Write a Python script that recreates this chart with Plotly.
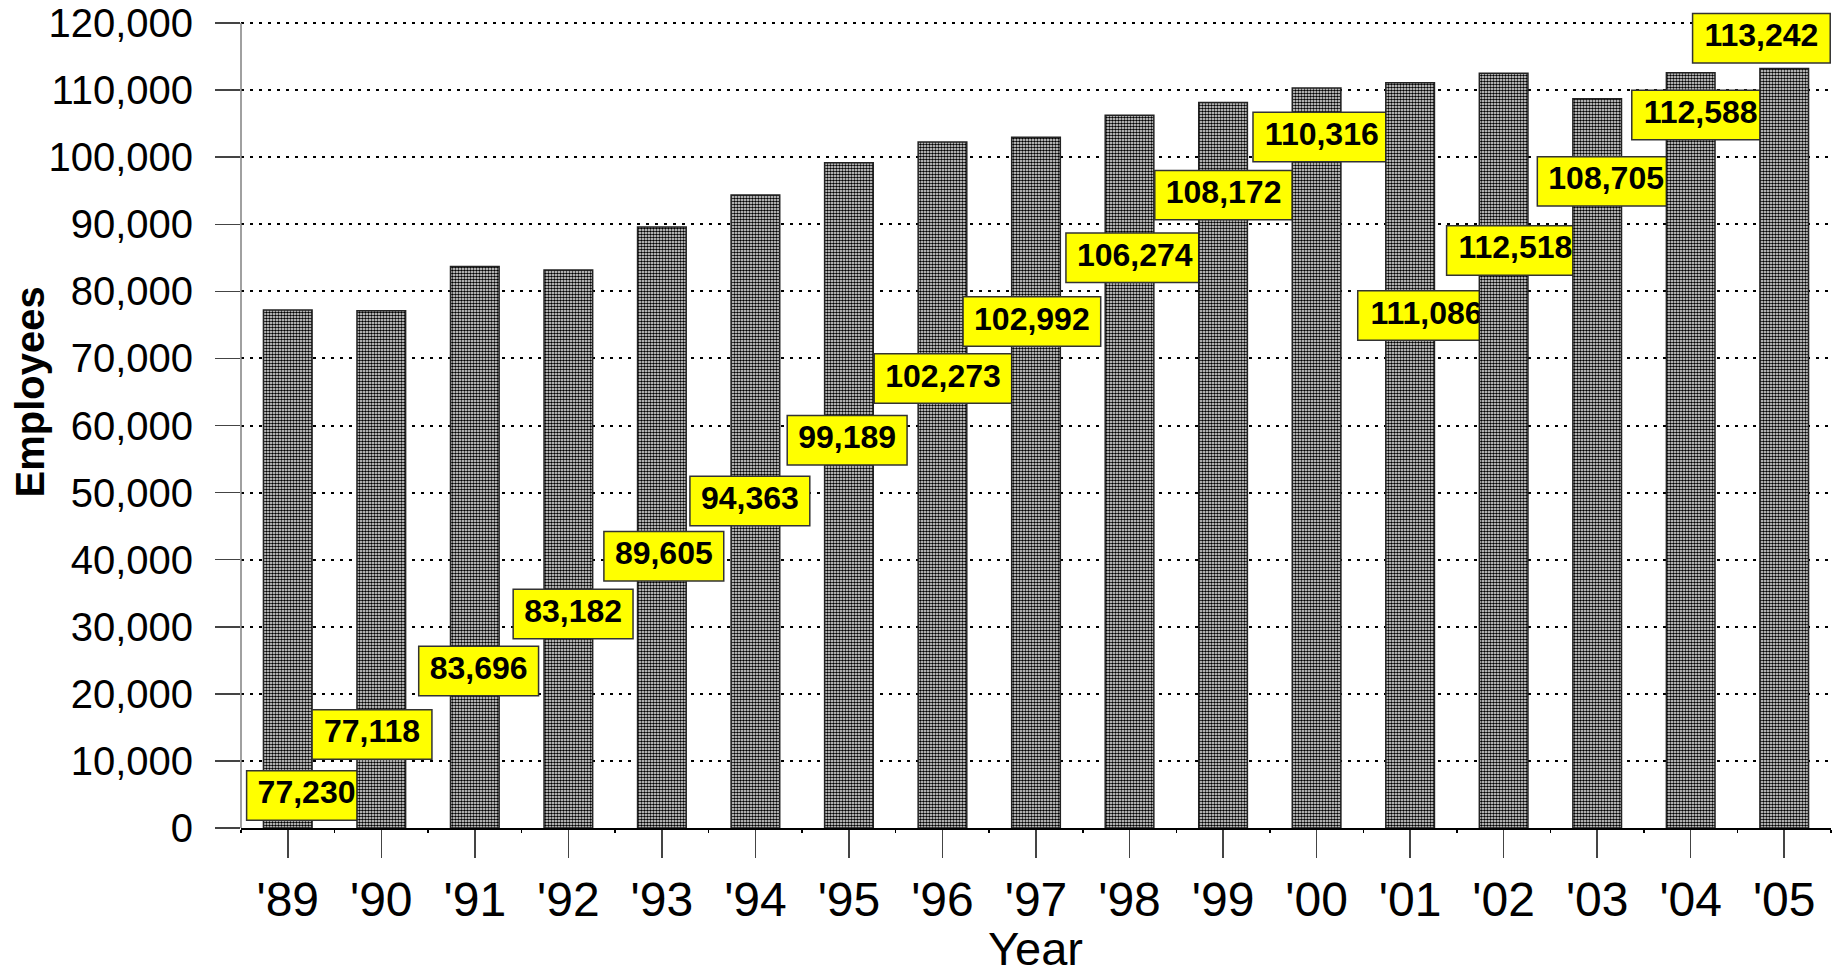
import plotly.graph_objects as go

# ---------------- data ----------------
years = ["'89", "'90", "'91", "'92", "'93", "'94", "'95", "'96", "'97",
         "'98", "'99", "'00", "'01", "'02", "'03", "'04", "'05"]
employees = [77230, 77118, 83696, 83182, 89605, 94363, 99189, 102273, 102992,
             106274, 108172, 110316, 111086, 112518, 108705, 112588, 113242]

# label placement (layout): left edge offset from category (category units), centre height (data units)
label_dx = [-0.44, -0.74, -0.60, -0.59, -0.62, -0.70, -0.66, -0.73, -0.78,
            -0.68, -0.73, -0.68, -0.56, -0.61, -0.64, -0.63, -0.98]
label_y = [4860, 13950, 23400, 31900, 40500, 48750, 57800, 67000, 75500,
           85000, 94350, 103000, 76400, 86100, 96400, 106300, 117750]

# ---------------- layout constants ----------------
FONT = "Liberation Sans, Arial, sans-serif"
W, H = 1843, 977
YMAX = 120000          # top tick / axis line end
YTOP = 121800          # a little headroom so the top label box is not clipped
PX_PER_UNIT_Y = 805 / YMAX
ML, MR, MB = 241, 12, 149
plot_h = PX_PER_UNIT_Y * YTOP
MT = H - MB - plot_h
n = len(years)
plot_w = W - ML - MR
px_x = plot_w / n
label_fs = 32
box_h = 49.5 / PX_PER_UNIT_Y


def text_w(s):
    return sum(0.278 if c == "," else 0.556 for c in s) * label_fs


def paper_y(px):
    return (H - MB - px) / plot_h


fig = go.Figure()
for i, v in enumerate(employees):
    xa = "x" if i == 0 else f"x{i + 1}"
    fig.add_trace(go.Bar(
        x=[i], y=[v], width=0.52, xaxis=xa, yaxis="y",
        marker=dict(color="white", line=dict(color="#222222", width=1.5),
                    pattern=dict(shape=".", fgcolor="black", bgcolor="white",
                                 size=3, solidity=0.6, fillmode="replace")),
        hoverinfo="skip", showlegend=False))
    txt = f"{v:,}"
    w = (text_w(txt) + 22) / px_x
    cx = i + label_dx[i] + w / 2
    fig.add_trace(go.Bar(
        x=[cx], y=[box_h], base=[label_y[i] - box_h / 2], width=[w],
        xaxis=xa, yaxis="y", cliponaxis=False,
        marker=dict(color="#FFFF00", line=dict(color="#333333", width=1.5)),
        hoverinfo="skip", showlegend=False))
    fig.add_trace(go.Scatter(
        x=[cx], y=[label_y[i]], mode="text", text=[txt], xaxis=xa, yaxis="y",
        textposition="middle center", cliponaxis=False,
        textfont=dict(family=FONT, size=label_fs, color="black", weight="bold"),
        hoverinfo="skip", showlegend=False))

layout = dict(
    width=W, height=H,
    margin=dict(l=ML, r=MR, t=MT, b=MB, pad=0, autoexpand=False),
    paper_bgcolor="white", plot_bgcolor="white",
    barmode="overlay",
    font=dict(family=FONT, color="black"),
    xaxis=dict(
        range=[-0.5, n - 0.5], tickmode="array", tickvals=list(range(n)), ticktext=years,
        ticks="outside", ticklen=28, tickwidth=1.5, tickcolor="#444444",
        tickfont=dict(size=48, family=FONT, color="black"),
        showline=True, linecolor="black", linewidth=2,
        showgrid=False, zeroline=False, fixedrange=True, automargin=False,
        minor=dict(ticks="outside", tick0=0.5, dtick=1, ticklen=3, tickcolor="black", showgrid=False),
    ),
    yaxis=dict(
        range=[0, YTOP], tickmode="linear", tick0=0, dtick=10000, tickformat=",d",
        ticks="outside", ticklen=25, tickwidth=1.5, tickcolor="#444444",
        tickfont=dict(size=40, family=FONT, color="black"), ticklabelstandoff=14,
        showline=False,
        showgrid=True, gridcolor="black", gridwidth=2, griddash="3px,6px",
        zeroline=False, fixedrange=True, automargin=False,
    ),
)
for i in range(1, n):
    layout[f"xaxis{i + 1}"] = dict(overlaying="x", range=[-0.5, n - 0.5], visible=False,
                                   anchor="y", fixedrange=True, automargin=False)
fig.update_layout(**layout)

# y axis line, from 0 up to the top tick only
fig.add_shape(type="line", xref="paper", yref="y", x0=0, x1=0, y0=0, y1=YMAX,
              line=dict(color="#808080", width=1.5), layer="above")

fig.add_annotation(text="Employees", xref="paper", yref="paper",
                   x=(30 - ML) / plot_w, y=paper_y(392.5),
                   textangle=-90, showarrow=False, xanchor="center", yanchor="middle",
                   font=dict(size=40, family=FONT, color="black", weight="bold"))
fig.add_annotation(text="Year", xref="paper", yref="paper",
                   x=(1035 - ML) / plot_w, y=paper_y(949),
                   showarrow=False, xanchor="center", yanchor="middle",
                   font=dict(size=47, family=FONT, color="black"))

fig.write_html(
    "out.html",
    config={"displayModeBar": False, "staticPlot": True},
    post_script="document.body.style.margin='0';document.body.style.overflow='hidden';",
)
